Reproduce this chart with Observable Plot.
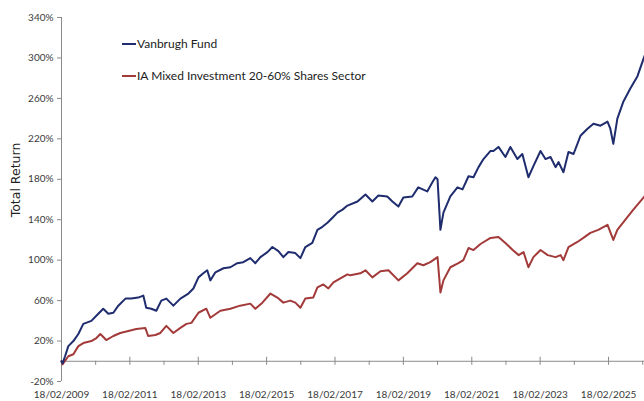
<!DOCTYPE html>
<html>
<head>
<meta charset="utf-8">
<script src="https://cdn.jsdelivr.net/npm/d3@7"></script>
<script src="https://cdn.jsdelivr.net/npm/@observablehq/plot@0.6"></script>
<style>
  html, body { margin: 0; padding: 0; background: #fff; }
  #chart { width: 644px; height: 401px; }
</style>
</head>
<body>
<div id="chart"></div>
<script>
// ---- Data ----
const seriesNames = ["Vanbrugh Fund", "IA Mixed Investment 20-60% Shares Sector"];
const seriesColors = ["#1f2c6e", "#a33a3a"];

const fundDates = [
  "2009-02-18","2009-03-01","2009-03-28","2009-05-02","2009-06-25","2009-08-17","2009-10-09",
  "2010-01-03","2010-03-18","2010-05-10","2010-07-03","2010-08-26","2010-10-18",
  "2011-01-02","2011-03-06","2011-05-18","2011-07-12","2011-08-12","2011-10-05","2011-11-28",
  "2012-01-20","2012-03-14","2012-05-28","2012-08-11","2012-11-05","2012-12-28",
  "2013-02-20","2013-04-13","2013-05-25","2013-06-27","2013-08-20","2013-11-14",
  "2014-01-27","2014-04-11","2014-06-14","2014-08-28","2014-10-21","2014-12-14",
  "2015-02-27","2015-04-21","2015-06-24","2015-08-16","2015-10-09","2015-12-22",
  "2016-02-14","2016-04-07","2016-06-20","2016-08-14","2016-10-06","2016-11-29",
  "2017-01-22","2017-03-16","2017-05-09","2017-07-01","2017-10-16",
  "2018-01-09","2018-03-24","2018-05-27","2018-08-30","2018-10-24","2018-12-27",
  "2019-02-18","2019-05-24","2019-07-27","2019-10-31","2019-12-25",
  "2020-01-27","2020-02-18","2020-03-20","2020-04-21","2020-07-04","2020-09-18","2020-11-11",
  "2021-01-14","2021-03-08","2021-05-01","2021-06-23","2021-09-06","2021-10-07","2021-11-30",
  "2022-02-12","2022-04-06","2022-06-20","2022-08-12","2022-10-16","2022-12-08",
  "2023-02-22","2023-04-16","2023-06-09","2023-08-02","2023-09-03","2023-10-25","2023-12-18",
  "2024-02-10","2024-04-24","2024-07-08","2024-09-10","2024-11-24",
  "2025-02-07","2025-03-09","2025-04-10","2025-05-23","2025-07-27","2025-10-10","2025-12-24",
  "2026-03-09"
];
const fundValues = [
  0, -2, 5, 15, 20, 27, 37,
  40, 47, 52, 47, 48, 55,
  62, 62, 63, 65, 53, 52, 50,
  60, 62, 55, 62, 67, 72,
  83, 87, 90, 80, 88, 92,
  93, 97, 98, 102, 97, 103,
  108, 113, 109, 103, 108, 107,
  102, 113, 117, 130, 133, 137,
  142, 147, 150, 154, 158,
  165, 158, 164, 163, 158, 153,
  162, 163, 172, 168, 177,
  182, 180, 130, 147, 163, 172, 170,
  183, 182, 192, 200, 208, 208, 212,
  202, 212, 200, 205, 182, 193,
  208, 200, 202, 192, 197, 187, 207,
  205, 223, 230, 235, 233,
  237, 230, 215, 240, 257, 270, 282,
  302
];

const sectorDates = [
  "2009-02-18","2009-03-01","2009-05-02","2009-06-25","2009-08-17","2009-10-09",
  "2010-01-03","2010-02-26","2010-04-09","2010-06-11","2010-08-26","2010-11-08",
  "2011-02-02","2011-04-28","2011-08-02","2011-09-02","2011-11-18",
  "2012-01-10","2012-03-14","2012-05-28","2012-08-11","2012-10-15","2012-12-07",
  "2013-02-20","2013-05-15","2013-06-27","2013-10-12",
  "2014-01-27","2014-05-11","2014-08-28","2014-10-21",
  "2015-01-04","2015-03-31","2015-06-13","2015-08-16","2015-10-30","2015-12-22",
  "2016-02-14","2016-04-07","2016-06-30","2016-08-14","2016-10-17","2016-12-09",
  "2017-02-01","2017-04-16","2017-07-01","2017-08-01","2017-11-15",
  "2018-01-09","2018-03-24","2018-06-18","2018-09-12","2018-12-27",
  "2019-04-01","2019-07-17","2019-09-20","2019-12-03",
  "2020-02-18","2020-03-20","2020-04-21","2020-07-04","2020-09-28","2020-11-20",
  "2021-01-14","2021-03-08","2021-05-22","2021-09-06","2021-11-30",
  "2022-02-12","2022-05-01","2022-07-04","2022-08-25","2022-10-16","2022-12-08",
  "2023-02-22","2023-05-10","2023-08-02","2023-09-25","2023-10-25","2023-12-18",
  "2024-03-22","2024-05-25","2024-08-08","2024-10-31",
  "2025-02-07","2025-04-10","2025-05-23","2025-08-17","2025-11-10",
  "2026-03-09"
];
const sectorValues = [
  0, -3, 5, 7, 15, 18,
  20, 23, 27, 21, 25, 28,
  30, 32, 33, 25, 26,
  28, 35, 28, 33, 37, 38,
  48, 52, 43, 50,
  52, 55, 57, 52,
  58, 67, 63, 58, 60, 58,
  53, 62, 63, 73, 76, 72,
  78, 82, 86, 85, 87,
  90, 83, 89, 90, 80,
  87, 97, 95, 98,
  103, 68, 80, 93, 97, 100,
  112, 110, 116, 122, 123,
  117, 110, 105, 108, 93, 103,
  110, 105, 103, 105, 100, 113,
  118, 122, 127, 130,
  135, 120, 130, 140, 150,
  163
];

const yTicks = [-20, 20, 60, 100, 140, 180, 220, 260, 300, 340];
const tickYears = [2009, 2010, 2011, 2012, 2013, 2014, 2015, 2016, 2017, 2018, 2019, 2020, 2021, 2022, 2023, 2024, 2025, 2026];
const labelYears = [2009, 2011, 2013, 2015, 2017, 2019, 2021, 2023, 2025];
const xDomain = ["2009-02-18", "2026-03-09"];
const yLabel = "Total Return";

// ---- Build tables ----
const fund = fundDates.map((d, i) => ({date: new Date(d), value: fundValues[i]}));
const sector = sectorDates.map((d, i) => ({date: new Date(d), value: sectorValues[i]}));
const yearDate = y => new Date(Date.UTC(y, 1, 18));
const majorTicks = labelYears.filter(y => y !== 2009).map(yearDate);
const minorTicks = tickYears.filter(y => !labelYears.includes(y)).map(yearDate);
const labelDates = labelYears.map(yearDate);
const axisGray = "#8a8a8a";
const textGray = "#3a3a3a";

const chart = Plot.plot({
  width: 644,
  height: 401,
  marginLeft: 61,
  marginRight: 0,
  marginTop: 17,
  marginBottom: 20,
  style: {fontFamily: "Lato, sans-serif", fontSize: "10px", color: textGray, background: "#fff"},
  x: {type: "utc", domain: xDomain.map(d => new Date(d))},
  y: {domain: [-20, 340]},
  marks: [
    Plot.axisY({ticks: yTicks, tickFormat: d => d + "%", tickSize: 4, tickPadding: 4, label: null, stroke: axisGray, fill: textGray, fontSize: 10}),
    Plot.axisX({ticks: labelDates, tickFormat: d3.utcFormat("%d/%m/%Y"), tickSize: 0, tickPadding: 9, label: null, fill: textGray, fontSize: 10}),
    Plot.ruleX([new Date(xDomain[0])], {stroke: axisGray, strokeWidth: 1}),
    Plot.ruleY([0], {stroke: axisGray, strokeWidth: 1}),
    Plot.ruleX(majorTicks, {x: d => d, y1: -4, y2: 4, stroke: axisGray}),
    Plot.ruleX(minorTicks, {x: d => d, y1: -4, y2: 0, stroke: axisGray}),
    Plot.line(sector, {x: "date", y: "value", stroke: seriesColors[1], strokeWidth: 2}),
    Plot.line(fund, {x: "date", y: "value", stroke: seriesColors[0], strokeWidth: 2})
  ]
});

document.getElementById("chart").appendChild(chart);

// ---- Y axis title and in-plot legend ----
const svg = d3.select(chart);
svg.append("text")
  .attr("transform", "translate(20,180) rotate(-90)")
  .attr("text-anchor", "middle")
  .attr("font-family", "'DejaVu Sans', sans-serif")
  .attr("font-size", 12.5)
  .attr("fill", "#222")
  .text(yLabel);

const legend = svg.append("g").attr("transform", "translate(122,44)");
seriesNames.forEach((name, i) => {
  const g = legend.append("g").attr("transform", `translate(0,${i * 32})`);
  g.append("line").attr("x1", 0).attr("x2", 14).attr("y1", 0).attr("y2", 0)
    .attr("stroke", seriesColors[i]).attr("stroke-width", 2);
  g.append("text").attr("x", 15).attr("y", 0).attr("dy", "0.35em")
    .attr("text-anchor", "start")
    .attr("font-family", "Lato, sans-serif").attr("font-size", 12)
    .attr("fill", "#222").text(name);
});
</script>
</body>
</html>
